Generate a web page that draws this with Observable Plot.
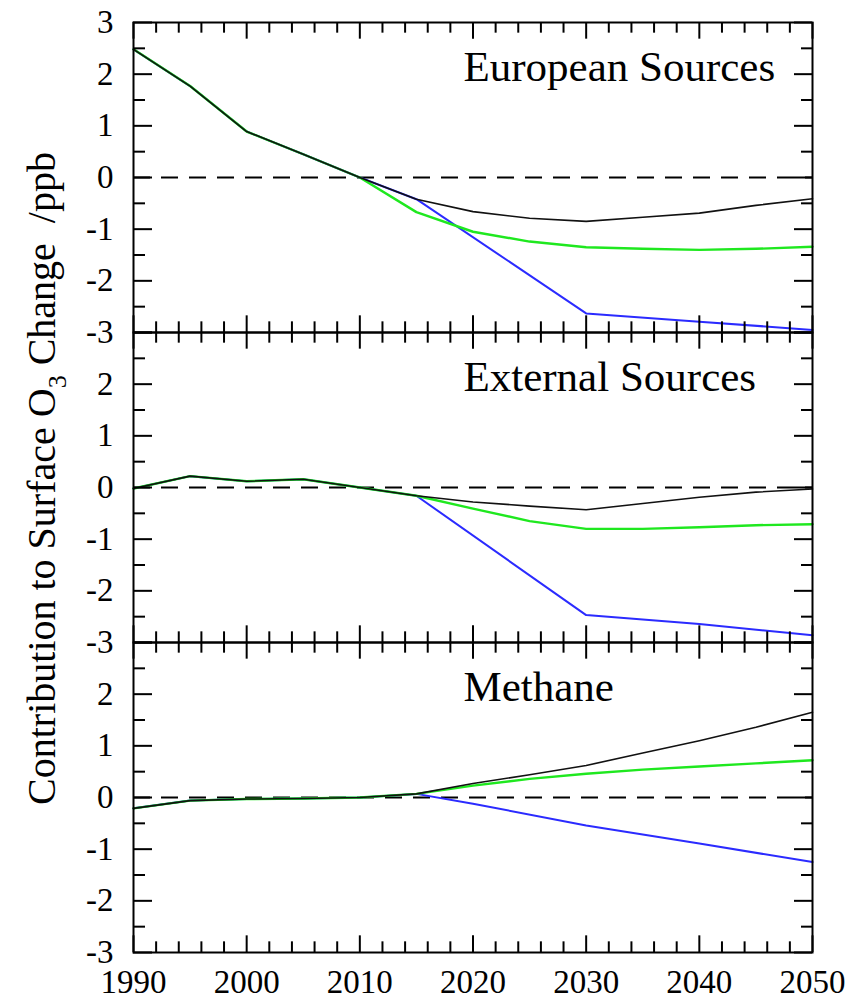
<!DOCTYPE html>
<html><head><meta charset="utf-8">
<script src="https://cdn.jsdelivr.net/npm/d3@7"></script>
<script src="https://cdn.jsdelivr.net/npm/@observablehq/plot@0.6"></script>
<style>body{margin:0;background:#fff} #chart{width:860px;height:999px}</style>
</head><body><div id="chart"></div>
<script>
const panels = ["European Sources", "External Sources", "Methane"];
const years = [1990,1995,2000,2005,2010,2015,2020,2025,2030,2035,2040,2045,2050];
const eurBlack = [2.48,1.77,0.89,0.45,0.0,-0.42,-0.66,-0.79,-0.85,-0.77,-0.69,-0.54,-0.41];
const eurGreen = [2.48,1.77,0.89,0.45,0.0,-0.67,-1.05,-1.24,-1.35,-1.38,-1.40,-1.38,-1.34];
const eurBlueYears = [1990,1995,2000,2005,2010,2015,2030,2040,2050];
const eurBlue = [2.48,1.77,0.89,0.45,0.0,-0.42,-2.63,-2.79,-2.95];
const extBlack = [-0.02,0.22,0.12,0.16,0.0,-0.16,-0.28,-0.36,-0.43,-0.31,-0.19,-0.09,-0.03];
const extGreen = [-0.02,0.22,0.12,0.16,0.0,-0.16,-0.41,-0.65,-0.80,-0.80,-0.77,-0.73,-0.71];
const extBlueYears = [1990,1995,2000,2005,2010,2015,2030,2040,2050];
const extBlue = [-0.02,0.22,0.12,0.16,0.0,-0.16,-2.47,-2.64,-2.86];
const methBlack = [-0.21,-0.06,-0.03,-0.02,0.0,0.07,0.27,0.44,0.62,0.86,1.10,1.36,1.65];
const methGreen = [-0.21,-0.06,-0.03,-0.02,0.0,0.07,0.23,0.36,0.46,0.54,0.60,0.66,0.72];
const methBlueYears = [1990,1995,2000,2005,2010,2015,2020,2030,2040,2050];
const methBlue = [-0.21,-0.06,-0.03,-0.02,0.0,0.07,-0.12,-0.54,-0.89,-1.25];

const xMajor = [1990,2000,2010,2020,2030,2040,2050];
const xMinor = [1992,1994,1996,1998,2002,2004,2006,2008,2012,2014,2016,2018,2022,2024,2026,2028,2032,2034,2036,2038,2042,2044,2046,2048];
const yMajor = [-3,-2,-1,0,1,2,3];
const yMinor = [-2.5,-1.5,-0.5,0.5,1.5,2.5];
const yLabelsTop = [3,2,1,0,-1,-2,-3];
const yLabelsOther = [2,1,0,-1,-2,-3];
const yTitle = ["Contribution to Surface O", "3", " Change  /ppb"];

function seriesRows(panel, series, xs, vs) {
  return xs.map((year, i) => ({panel, series, year, value: vs[i]}));
}
const rows = [
  ...seriesRows(panels[0], "blue", eurBlueYears, eurBlue),
  ...seriesRows(panels[0], "green", years, eurGreen),
  ...seriesRows(panels[0], "black", years, eurBlack),
  ...seriesRows(panels[1], "blue", extBlueYears, extBlue),
  ...seriesRows(panels[1], "green", years, extGreen),
  ...seriesRows(panels[1], "black", years, extBlack),
  ...seriesRows(panels[2], "blue", methBlueYears, methBlue),
  ...seriesRows(panels[2], "green", years, methGreen),
  ...seriesRows(panels[2], "black", years, methBlack)
];
const yLabelRows = [
  ...yLabelsTop.map(v => ({panel: panels[0], v})),
  ...yLabelsOther.map(v => ({panel: panels[1], v})),
  ...yLabelsOther.map(v => ({panel: panels[2], v}))
];
const titleRows = panels.map(p => ({panel: p, title: p}));

const W = 860, H = 999, mL = 133, mR = 48, mT = 21, mB = 47;
const plotW = W - mL - mR;
const bandH = (H - mT - mB) / panels.length;
const serif = '"Liberation Serif", "Times New Roman", serif';

const chart = Plot.plot({
  width: W, height: H,
  marginLeft: mL, marginRight: mR, marginTop: mT, marginBottom: mB,
  style: {fontFamily: serif, fontSize: "33px", color: "#000", background: "#fff"},
  x: {domain: [1990, 2050]},
  y: {domain: [-3, 3], axis: null},
  fy: {domain: panels, padding: 0, axis: null},
  marks: [
    Plot.ruleY([0], {strokeDasharray: "17,11", strokeWidth: 2, stroke: "#000"}),
    Plot.line(rows.filter(d => d.series === "blue"), {x: "year", y: "value", fy: "panel", stroke: "#2b2bff", strokeWidth: 2}),
    Plot.line(rows.filter(d => d.series === "green"), {x: "year", y: "value", fy: "panel", stroke: "#1fe81f", strokeWidth: 2.4}),
    Plot.line(rows.filter(d => d.series === "black"), {x: "year", y: "value", fy: "panel", stroke: "#111", strokeWidth: 1.6}),
    Plot.tickX(xMajor, {x: d => d, insetBottom: bandH - 17, strokeWidth: 2}),
    Plot.tickX(xMajor, {x: d => d, insetTop: bandH - 17, strokeWidth: 2}),
    Plot.tickX(xMinor, {x: d => d, insetBottom: bandH - 11, strokeWidth: 2}),
    Plot.tickX(xMinor, {x: d => d, insetTop: bandH - 11, strokeWidth: 2}),
    Plot.tickY(yMajor, {y: d => d, insetRight: plotW - 19, strokeWidth: 2}),
    Plot.tickY(yMajor, {y: d => d, insetLeft: plotW - 18, strokeWidth: 2}),
    Plot.tickY(yMinor, {y: d => d, insetRight: plotW - 12, strokeWidth: 2}),
    Plot.tickY(yMinor, {y: d => d, insetLeft: plotW - 11, strokeWidth: 2}),
    Plot.frame({strokeWidth: 2, stroke: "#000"}),
    Plot.text(yLabelRows, {fy: "panel", y: "v", text: d => String(d.v), frameAnchor: "left", dx: -20, textAnchor: "end", fontSize: 33, fill: "#000"}),
    Plot.axisX(xMajor, {tickSize: 0, tickPadding: 17, label: null, tickFormat: d => String(d), fontSize: 33}),
    Plot.text(titleRows, {fy: "panel", text: "title", frameAnchor: "top-left", dx: 330, dy: 58, lineAnchor: "bottom", textAnchor: "start", fontSize: 43, fill: "#000"})
  ]
});

const lab = d3.select(chart).append("text")
  .attr("transform", `translate(55,${mT + (H - mT - mB) / 2 - 8}) rotate(-90)`)
  .attr("text-anchor", "middle")
  .attr("font-family", serif)
  .attr("font-size", 40)
  .attr("fill", "#000")
  .style("white-space", "pre");
lab.append("tspan").text(yTitle[0]);
lab.append("tspan").attr("font-size", 26).attr("dy", 11).text(yTitle[1]);
lab.append("tspan").attr("dy", -11).text(yTitle[2]);

document.getElementById("chart").appendChild(chart);
</script>
</body></html>
